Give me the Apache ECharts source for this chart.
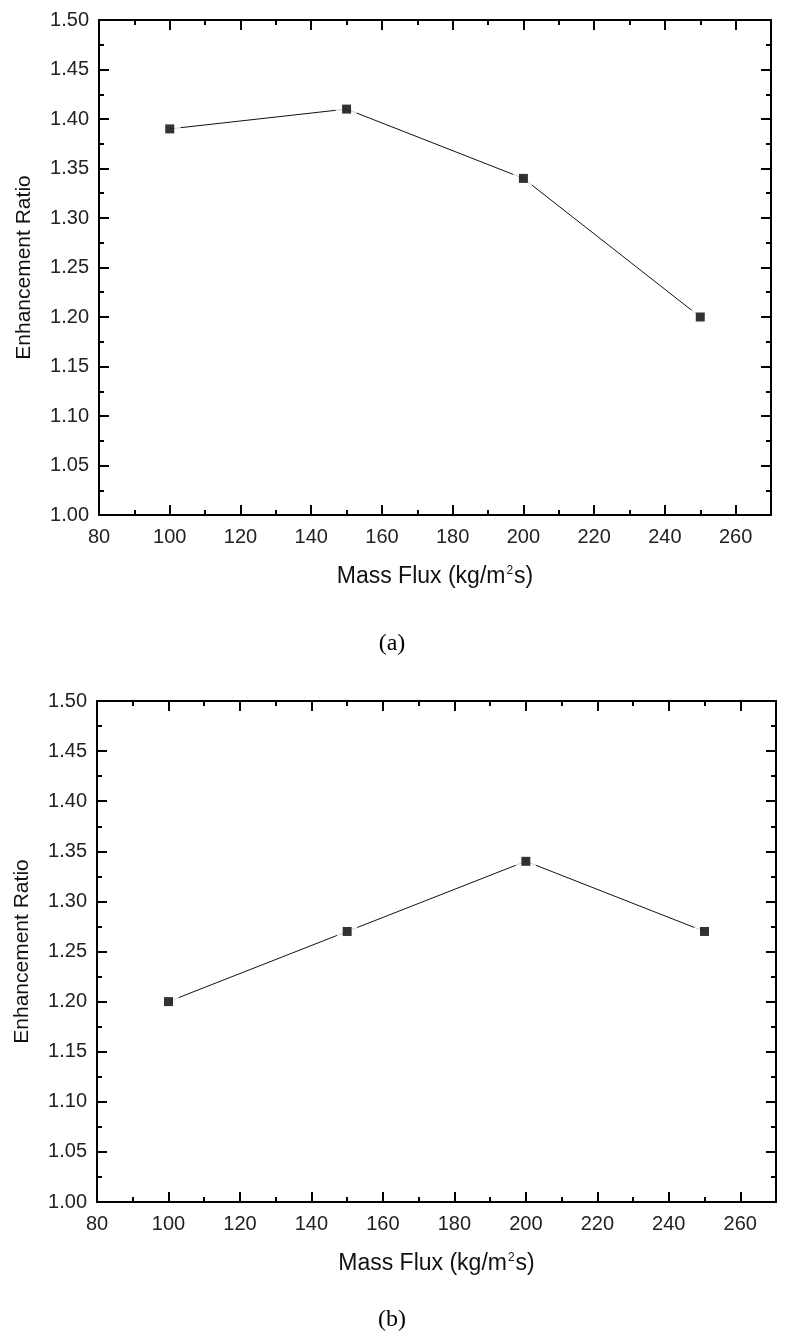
<!DOCTYPE html>
<html>
<head>
<meta charset="utf-8">
<script src="https://cdn.jsdelivr.net/npm/echarts@6/dist/echarts.min.js"></script>
<style>
html,body{margin:0;padding:0;background:#fff;}
#chart{width:798px;height:1342px;}
</style>
</head>
<body>
<div id="chart"></div>
<script>
// ---- data ----
const massFlux = [100, 150, 200, 250];
const ratioA = [1.39, 1.41, 1.34, 1.20];
const ratioB = [1.20, 1.27, 1.34, 1.27];
const xMin = 80, xMax = 270, xStep = 20, xMinorStep = 10;
const yMin = 1.00, yMax = 1.50, yStep = 0.05;
const xName = '{n|Mass Flux (kg/m}{s|2}{n|s)}';
const yName = 'Enhancement Ratio';
const captions = ['(a)', '(b)'];

const FONT = '"Liberation Sans", Arial, sans-serif';
const LINE = { color: '#000', width: 2 };

function xAxes(g) {
  const base = { gridIndex: g, type: 'value', min: xMin, max: xMax, splitLine: { show: false } };
  return [
    Object.assign({}, base, {
      position: 'bottom', interval: xStep,
      axisLine: { show: true, onZero: false, lineStyle: LINE },
      axisTick: { show: true, inside: true, length: 10, lineStyle: LINE },
      axisLabel: { show: true, margin: 12, fontFamily: FONT, fontSize: 20, color: '#222',
        formatter: v => (v === xMax ? '' : String(v)) },
      name: xName, nameLocation: 'middle', nameGap: 50,
      nameTextStyle: { rich: {
        n: { fontFamily: FONT, fontSize: 23, color: '#111', verticalAlign: 'bottom' },
        s: { fontFamily: FONT, fontSize: 12, color: '#111', verticalAlign: 'bottom', padding: [0, 1, 11, 1] }
      } }
    }),
    Object.assign({}, base, {
      position: 'bottom', interval: xMinorStep,
      axisLine: { show: false, onZero: false },
      axisTick: { show: true, inside: true, length: 5, lineStyle: LINE },
      axisLabel: { show: false }
    }),
    Object.assign({}, base, {
      position: 'top', interval: xStep,
      axisLine: { show: true, onZero: false, lineStyle: LINE },
      axisTick: { show: true, inside: true, length: 10, lineStyle: LINE },
      axisLabel: { show: false }
    }),
    Object.assign({}, base, {
      position: 'top', interval: xMinorStep,
      axisLine: { show: false, onZero: false },
      axisTick: { show: true, inside: true, length: 5, lineStyle: LINE },
      axisLabel: { show: false }
    })
  ];
}

function yAxes(g) {
  const base = { gridIndex: g, type: 'value', min: yMin, max: yMax, interval: yStep,
    splitLine: { show: false },
    axisLine: { show: true, onZero: false, lineStyle: LINE },
    axisTick: { show: true, inside: true, length: 10, lineStyle: LINE },
    minorTick: { show: true, splitNumber: 2, length: 5, lineStyle: LINE },
    minorSplitLine: { show: false } };
  return [
    Object.assign({}, base, {
      position: 'left',
      axisLabel: { show: true, margin: 10, fontFamily: FONT, fontSize: 20, color: '#222',
        formatter: v => v.toFixed(2) },
      name: yName, nameLocation: 'middle', nameGap: 64,
      nameTextStyle: { fontFamily: FONT, fontSize: 21, color: '#111' }
    }),
    Object.assign({}, base, { position: 'right', axisLabel: { show: false } })
  ];
}

function seriesFor(g, values) {
  const pts = massFlux.map((x, i) => [x, values[i]]);
  const xi = g * 4, yi = g * 2;
  return [
    { type: 'line', xAxisIndex: xi, yAxisIndex: yi, data: pts, showSymbol: false, symbol: 'none',
      lineStyle: { color: '#111', width: 1 }, z: 2, animation: false, silent: true },
    { type: 'scatter', xAxisIndex: xi, yAxisIndex: yi, data: pts, symbol: 'circle', symbolSize: 22,
      itemStyle: { color: '#fff' }, z: 3, animation: false, silent: true },
    { type: 'scatter', xAxisIndex: xi, yAxisIndex: yi, data: pts, symbol: 'rect', symbolSize: 9,
      itemStyle: { color: '#000' }, z: 4, animation: false, silent: true }
  ];
}

const chart = echarts.init(document.getElementById('chart'), null, { renderer: 'canvas' });
chart.setOption({
  backgroundColor: '#fff',
  animation: false,
  grid: [
    { left: 99, top: 20, width: 672, height: 495 },
    { left: 97, top: 701, width: 679, height: 501 }
  ],
  xAxis: xAxes(0).concat(xAxes(1)),
  yAxis: yAxes(0).concat(yAxes(1)),
  series: seriesFor(0, ratioA).concat(seriesFor(1, ratioB)),
  graphic: [
    { type: 'text', x: 392, y: 644, style: { text: captions[0], font: '24px "Liberation Serif", "DejaVu Serif", serif',
      fill: '#000', align: 'center', verticalAlign: 'middle' } },
    { type: 'text', x: 392, y: 1320, style: { text: captions[1], font: '24px "Liberation Serif", "DejaVu Serif", serif',
      fill: '#000', align: 'center', verticalAlign: 'middle' } }
  ]
});
</script>
</body>
</html>
